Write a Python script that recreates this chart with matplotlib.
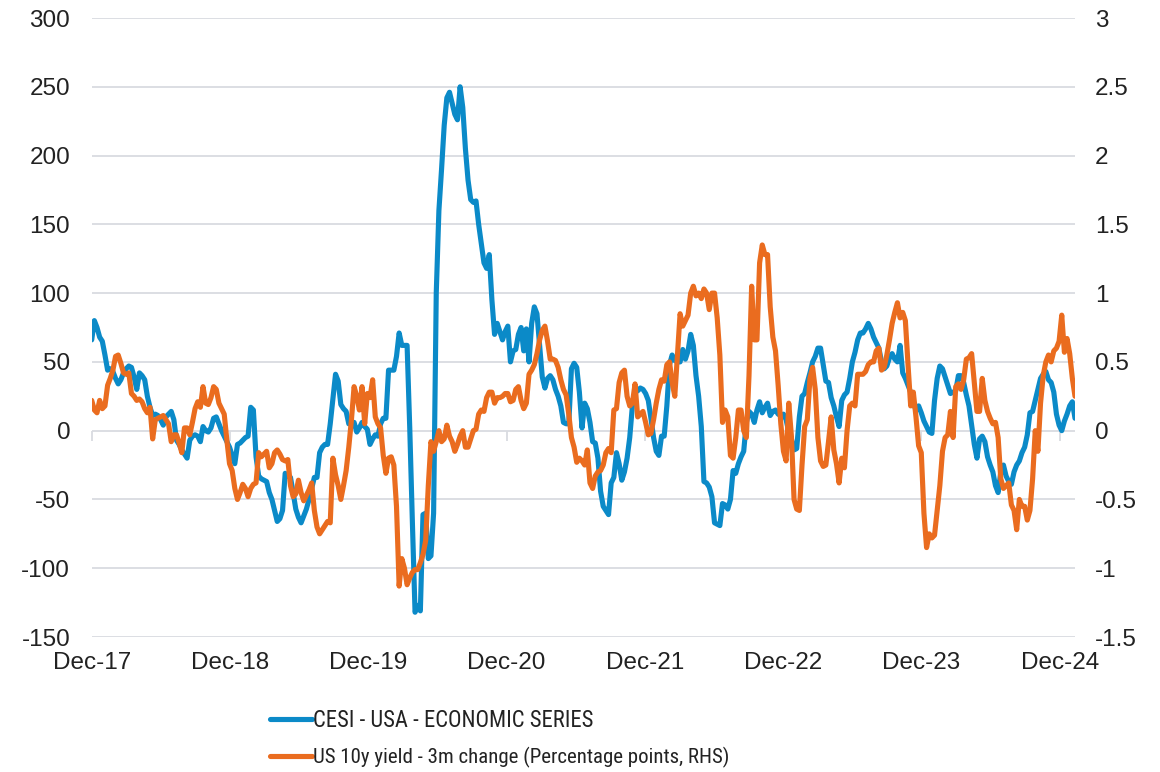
import numpy as np
import pandas as pd
import matplotlib
matplotlib.use("Agg")
import matplotlib.pyplot as plt
import matplotlib.dates as mdates
from matplotlib.lines import Line2D
from matplotlib import font_manager as fm
from matplotlib.textpath import TextPath

# ---------------- data (weekly) ----------------
start_date = "2017-12-01"
n_weeks = 372

cesi_usa = [
    66, 80, 75, 68, 65, 55, 44, 45, 43, 38,
    34, 37, 42, 45, 47, 46, 39, 30, 42, 40,
    37, 25, 17, 11, 12, 11, 8, 4, 10, 12,
    14, 8, -7, -10, -14, -17, -20, -7, -4, -3,
    -4, -8, 3, 0, -1, 2, 9, 10, 5, 0,
    -4, -8, -12, -18, -24, -10, -9, -7, -5, -4,
    17, 15, -19, -33, -35, -36, -37, -45, -50, -58,
    -66, -64, -58, -31, -33, -34, -45, -57, -63, -67,
    -62, -57, -50, -42, -34, -34, -16, -12, -10, -10,
    5, 23, 41, 36, 19, 16, 14, 5, 6, 6,
    -1, 2, 6, 3, 1, -10, -6, -3, -4, 5,
    9, 9, 44, 44, 44, 54, 71, 62, 62, 62,
    2, -67, -132, -127, -131, -61, -60, -93, -91, -60,
    100, 160, 190, 222, 242, 246, 238, 230, 226, 250,
    235, 205, 182, 168, 166, 167, 150, 136, 122, 118,
    128, 95, 70, 78, 72, 66, 72, 76, 50, 58,
    59, 70, 75, 58, 74, 50, 78, 90, 85, 62,
    39, 31, 38, 40, 37, 30, 25, 18, 6, 5,
    5, 45, 49, 46, 28, 2, 20, 16, 6, -8,
    -9, -20, -44, -55, -58, -61, -38, -34, -16, -24,
    -36, -30, -20, -5, 18, 28, 29, 31, 30, 27,
    22, 9, -5, -15, -18, -4, -4, 18, 48, 55,
    51, 50, 50, 59, 52, 58, 70, 62, 40, 25,
    3, -37, -38, -41, -48, -67, -68, -69, -53, -54,
    -57, -50, -29, -31, -24, -19, -15, 6, 14, 12,
    6, 15, 21, 13, 17, 20, 11, 14, 15, 12,
    11, 12, 8, -1, -6, -14, -13, 10, 25, 27,
    35, 42, 50, 54, 60, 60, 48, 36, 35, 24,
    18, 10, 3, 22, 26, 28, 38, 50, 57, 66,
    71, 71, 74, 78, 74, 68, 64, 60, 50, 45,
    47, 53, 56, 52, 50, 62, 42, 38, 33, 28,
    20, 15, 18, 13, 7, 3, -1, -2, 22, 38,
    47, 45, 39, 33, 27, 28, 29, 40, 40, 35,
    26, 18, 4, -10, -20, -6, -4, -8, -19, -25,
    -30, -40, -45, -30, -25, -33, -37, -39, -30, -25,
    -22, -16, -12, -3, 13, 14, 22, 30, 38, 41,
    43, 37, 35, 28, 12, 4, 0, 7, 12, 18,
    21, 9,
]

# US 10y yield, 3-month change, in basis points
us10y_3m_chg_bp = [
    22, 15, 13, 22, 16, 18, 33, 38, 44, 54,
    55, 49, 42, 41, 42, 27, 25, 22, 23, 21,
    16, 13, 17, -6, 8, 9, 10, 11, 8, 5,
    -8, -3, -3, -9, -16, 2, 2, -3, 6, 16,
    21, 17, 32, 20, 19, 24, 32, 30, 20, 16,
    12, -7, -24, -29, -42, -50, -45, -39, -42, -48,
    -42, -39, -38, -16, -19, -17, -15, -27, -24, -16,
    -14, -17, -21, -22, -21, -40, -48, -46, -36, -45,
    -51, -47, -43, -38, -58, -70, -75, -72, -69, -66,
    -67, -20, -32, -40, -50, -40, -29, -12, 8, 32,
    25, 15, 32, 5, 27, 24, 37, 10, 5, 2,
    -18, -31, -20, -19, -25, -55, -113, -93, -100, -112,
    -107, -103, -101, -101, -96, -90, -80, -40, -8, -15,
    -8, 0, -8, -6, 4, -4, -8, -15, -10, -4,
    0, -12, -12, -6, 0, 1, 12, 15, 14, 24,
    28, 28, 20, 24, 24, 25, 27, 27, 21, 22,
    30, 32, 22, 16, 20, 41, 44, 48, 56, 66,
    73, 76, 65, 52, 52, 51, 46, 37, 30, 26,
    12, -5, -12, -23, -20, -22, -25, -14, -38, -42,
    -33, -30, -29, -25, -16, -13, -16, 15, 16, 35,
    42, 44, 25, 18, 20, 34, 10, 12, 14, 6,
    -3, -2, 8, 20, 30, 37, 36, 48, 50, 35,
    25, 55, 85, 76, 80, 84, 100, 105, 98, 100,
    96, 103, 100, 88, 100, 100, 82, 55, 6, 15,
    10, -18, -20, -5, 15, 15, 0, -5, 40, 105,
    66, 66, 122, 135, 128, 128, 90, 68, 58, 33,
    5, -15, -22, 20, -4, -50, -57, -58, -25, 3,
    8, 38, 46, 30, -5, -22, -26, -25, -8, 10,
    -14, -24, -38, -20, -27, 0, 18, 20, 18, 41,
    41, 41, 43, 48, 50, 50, 58, 60, 44, 46,
    55, 66, 78, 86, 93, 82, 86, 80, 48, 18,
    28, 10, -11, -16, -60, -85, -75, -78, -76, -58,
    -40, -15, -5, -3, 14, -5, 32, 34, 30, 37,
    52, 53, 56, 35, 14, 14, 38, 22, 14, 9,
    5, 6, -5, -35, -42, -40, -38, -54, -58, -72,
    -50, -55, -55, -65, -58, -35, 0, -15, 20, 40,
    50, 55, 50, 58, 60, 65, 84, 57, 67, 56,
    38, 25,
]

tick_dates = ["2017-12-01", "2018-12-01", "2019-12-01", "2020-12-01",
              "2021-12-01", "2022-12-01", "2023-12-01", "2024-12-01"]
tick_labels = ["Dec-17", "Dec-18", "Dec-19", "Dec-20",
               "Dec-21", "Dec-22", "Dec-23", "Dec-24"]
left_ticks = [-150, -100, -50, 0, 50, 100, 150, 200, 250, 300]
right_ticks = [-1.5, -1, -0.5, 0, 0.5, 1, 1.5, 2, 2.5, 3]
series_names = ["CESI - USA - ECONOMIC SERIES",
                "US 10y yield - 3m change (Percentage points, RHS)"]

# ---------------- styling ----------------
BLUE = "#0B8AC8"
ORANGE = "#EA6C1F"
GRID = "#D9DBE0"
TEXT = "#222222"
LW = 3.7
LEGEND_TEXT_WIDTH_PX = [278, 413]   # label widths in the source

plt.rcParams["font.family"] = ["Liberation Sans", "DejaVu Sans"]
tick_font = fm.FontProperties(fname=fm.findfont(fm.FontProperties(family="Liberation Sans")),
                              size=17.5)


def narrow_font_file():
    """Legend text in the source is an Arial-Narrow-like face: use a narrow sans if present."""
    prefs = ["LiberationSansNarrow-Regular", "ArialNarrow", "RobotoCondensed-Regular",
             "RobotoCondensed[", "ArchivoNarrow-Regular", "ArchivoNarrow[",
             "DejaVuSansCondensed.ttf"]
    files = [f.fname for f in fm.fontManager.ttflist if f.style == "normal"]
    for p in prefs:
        for fn in files:
            if p in fn.split("/")[-1]:
                return fn
    return tick_font.get_file()


def sized_prop(fname, text, width_px):
    prop = fm.FontProperties(fname=fname, size=100)
    w_pt = TextPath((0, 0), text, prop=prop).get_extents().width
    size = 100 * (width_px * 72 / 100) / w_pt
    return fm.FontProperties(fname=fname, size=min(size, 16.5))


nfile = narrow_font_file()
legend_props = [sized_prop(nfile, s, w) for s, w in zip(series_names, LEGEND_TEXT_WIDTH_PX)]

dates = pd.date_range(start_date, periods=n_weeks, freq="7D")
x = mdates.date2num(dates.to_pydatetime())
cesi = np.array(cesi_usa, dtype=float)
yld = np.array(us10y_3m_chg_bp, dtype=float) / 100.0
tx = mdates.date2num(pd.to_datetime(tick_dates).to_pydatetime())

W, H = 1160, 772
fig = plt.figure(figsize=(W / 100, H / 100), dpi=100)
L, R, T, B = 91.7, 1075, 18, 637
ax = fig.add_axes([L / W, 1 - B / H, (R - L) / W, (B - T) / H])
ax2 = ax.twinx()

ax.plot(x, cesi, color=BLUE, lw=LW, solid_joinstyle="round", solid_capstyle="round", zorder=3)
ax2.plot(x, yld, color=ORANGE, lw=LW, solid_joinstyle="round", solid_capstyle="round", zorder=3)

ax.set_xlim(x[0], x[-1])
ax.set_ylim(-150, 300)
ax2.set_ylim(-1.5, 3)

ax.set_yticks(left_ticks)
ax.set_yticklabels([f"{v:g}" for v in left_ticks], fontproperties=tick_font)
ax2.set_yticks(right_ticks)
ax2.set_yticklabels([f"{v:g}" for v in right_ticks], fontproperties=tick_font)
ax.yaxis.grid(True, color=GRID, lw=1.3)
ax.set_axisbelow(True)

for a in (ax, ax2):
    for s in a.spines.values():
        s.set_visible(False)

ax.tick_params(axis="y", length=0, pad=15.5, labelcolor=TEXT)
ax2.tick_params(axis="y", length=0, pad=14.5, labelcolor=TEXT)
ax.set_xticks(tx)
ax.set_xticklabels(tick_labels, fontproperties=tick_font)
ax.tick_params(axis="x", length=0, pad=11, labelcolor=TEXT)

# small tick marks hanging from the zero line
sec = ax.secondary_xaxis(0, transform=ax.transData)
sec.set_xticks(tx)
sec.tick_params(axis="x", length=7, width=1.3, color=GRID, labelbottom=False)
sec.spines["bottom"].set_visible(False)

handles = [Line2D([], [], color=BLUE, lw=LW, solid_capstyle="round"),
           Line2D([], [], color=ORANGE, lw=LW, solid_capstyle="round")]
fs_px = legend_props[0].get_size_in_points() * 100 / 72
leg = fig.legend(handles, series_names, loc="center left",
                 bbox_to_anchor=(270 / W, 1 - 738.5 / H), frameon=False,
                 prop=legend_props[0], handlelength=42 / fs_px, handletextpad=0.05,
                 labelspacing=(43 - 1.2 * fs_px) / fs_px, borderpad=0, borderaxespad=0,
                 labelcolor=TEXT)
for t, p in zip(leg.get_texts(), legend_props):
    t.set_fontproperties(p)

fig.savefig("out.png", dpi=100)
